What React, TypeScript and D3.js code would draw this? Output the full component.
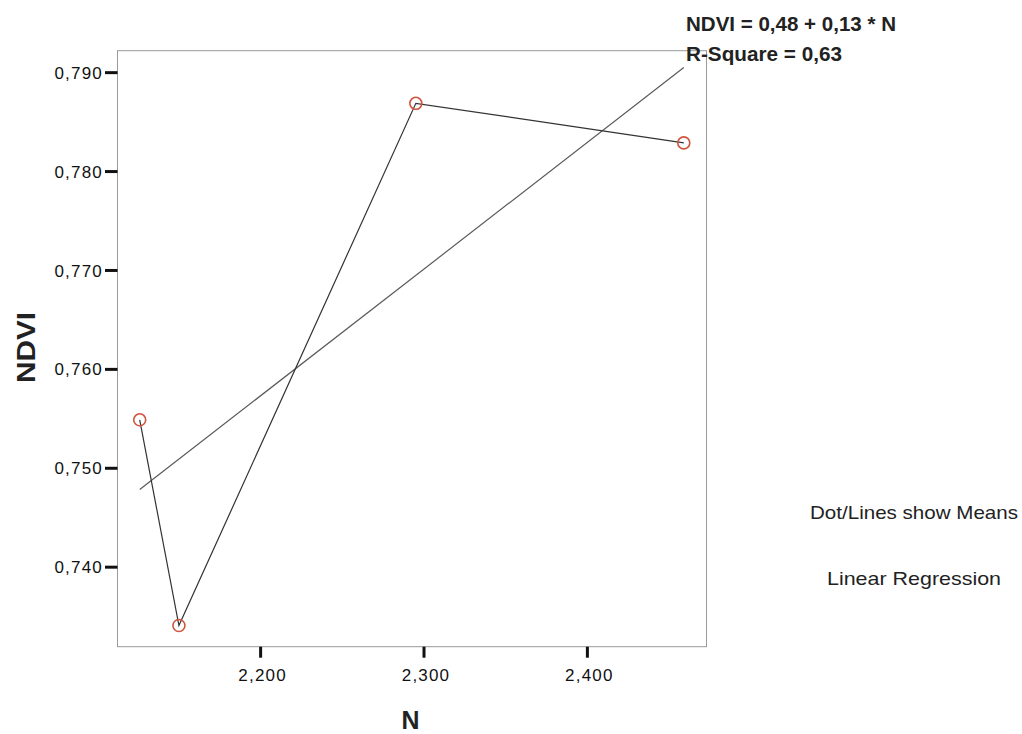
import React from "react";
import * as d3 from "d3";

// N (thousands) and group means of NDVI
const nValues = [2.126, 2.15, 2.295, 2.459];
const ndviMeans = [0.7549, 0.7341, 0.7869, 0.7829];
const xTicks = [2.2, 2.3, 2.4];
const yTicks = [0.74, 0.75, 0.76, 0.77, 0.78, 0.79];
const equationLines = ["NDVI = 0,48 + 0,13 * N", "R-Square = 0,63"];
const legendLines = ["Dot/Lines show Means", "Linear Regression"];
const xTitle = "N";
const yTitle = "NDVI";

const W = 1022;
const H = 734;
const plot = { left: 117.5, right: 706.5, top: 50.7, bottom: 646.7 };

const fmt = (v: number) => d3.format(".3f")(v).replace(".", ",");

export default function App() {
  const x = d3.scaleLinear().domain([2.1124, 2.4729]).range([plot.left, plot.right]);
  const y = d3.scaleLinear().domain([0.73196, 0.79222]).range([plot.bottom, plot.top]);

  const pts = nValues.map((n, i) => [n, ndviMeans[i]] as [number, number]);
  const meanLine = d3
    .line<[number, number]>()
    .x((d) => x(d[0]))
    .y((d) => y(d[1]))(pts) as string;

  // least squares fit
  const mx = d3.mean(nValues)!;
  const my = d3.mean(ndviMeans)!;
  let sxy = 0, sxx = 0;
  nValues.forEach((n, i) => {
    sxy += (n - mx) * (ndviMeans[i] - my);
    sxx += (n - mx) * (n - mx);
  });
  const slope = sxy / sxx;
  const icpt = my - slope * mx;
  const [xmin, xmax] = d3.extent(nValues) as [number, number];
  const regLine = d3
    .line<number>()
    .x((n) => x(n))
    .y((n) => y(icpt + slope * n))([xmin, xmax]) as string;

  const font = "'Liberation Sans', Arial, sans-serif";

  return (
    <div style={{ position: "absolute", left: 0, top: 0 }}>
      <svg width={W} height={H} style={{ display: "block", background: "#fff" }}>
        <rect
          x={plot.left}
          y={plot.top}
          width={plot.right - plot.left}
          height={plot.bottom - plot.top}
          fill="none"
          stroke="#9a9a9a"
          strokeWidth={1}
        />
        {/* y ticks */}
        {yTicks.map((t) => (
          <g key={"y" + t}>
            <line x1={105} x2={plot.left} y1={y(t)} y2={y(t)} stroke="#111" strokeWidth={3} />
            <text
              x={103}
              y={y(t)}
              dy="0.36em"
              textAnchor="end"
              fontFamily={font}
              fontSize={17}
              letterSpacing={1.2}
              fill="#111"
            >
              {fmt(t)}
            </text>
          </g>
        ))}
        {/* x ticks */}
        {xTicks.map((t) => (
          <g key={"x" + t}>
            <line x1={x(t)} x2={x(t)} y1={plot.bottom} y2={plot.bottom + 11} stroke="#111" strokeWidth={3} />
            <text
              x={x(t) + 2}
              y={681}
              textAnchor="middle"
              fontFamily={font}
              fontSize={17}
              letterSpacing={1.2}
              fill="#111"
            >
              {fmt(t)}
            </text>
          </g>
        ))}
        {/* regression line */}
        <path d={regLine} fill="none" stroke="#5a5a5a" strokeWidth={1.2} />
        {/* means line */}
        <path d={meanLine} fill="none" stroke="#333" strokeWidth={1.2} />
        {pts.map((p, i) => (
          <circle key={i} cx={x(p[0])} cy={y(p[1])} r={6} fill="none" stroke="#d0543e" strokeWidth={1.6} />
        ))}
        {/* axis titles */}
        <text
          x={401.5}
          y={729}
          fontFamily={font}
          fontWeight="bold"
          fontSize={26}
          textLength={18}
          lengthAdjust="spacingAndGlyphs"
          fill="#222"
        >
          {xTitle}
        </text>
        <text
          transform={`translate(34.5,383) rotate(-90)`}
          fontFamily={font}
          fontWeight="bold"
          fontSize={26}
          textLength={71}
          lengthAdjust="spacingAndGlyphs"
          fill="#222"
        >
          {yTitle}
        </text>
        {/* equation */}
        <text x={686} y={31} fontFamily={font} fontWeight="bold" fontSize={21} textLength={210} lengthAdjust="spacingAndGlyphs" fill="#222">
          {equationLines[0]}
        </text>
        <text x={686} y={61} fontFamily={font} fontWeight="bold" fontSize={21} textLength={156} lengthAdjust="spacingAndGlyphs" fill="#222">
          {equationLines[1]}
        </text>
        {/* legend */}
        <text x={810} y={519} fontFamily={font} fontSize={19} textLength={208} lengthAdjust="spacingAndGlyphs" fill="#222">
          {legendLines[0]}
        </text>
        <text x={827} y={585} fontFamily={font} fontSize={19} textLength={174} lengthAdjust="spacingAndGlyphs" fill="#222">
          {legendLines[1]}
        </text>
      </svg>
    </div>
  );
}
